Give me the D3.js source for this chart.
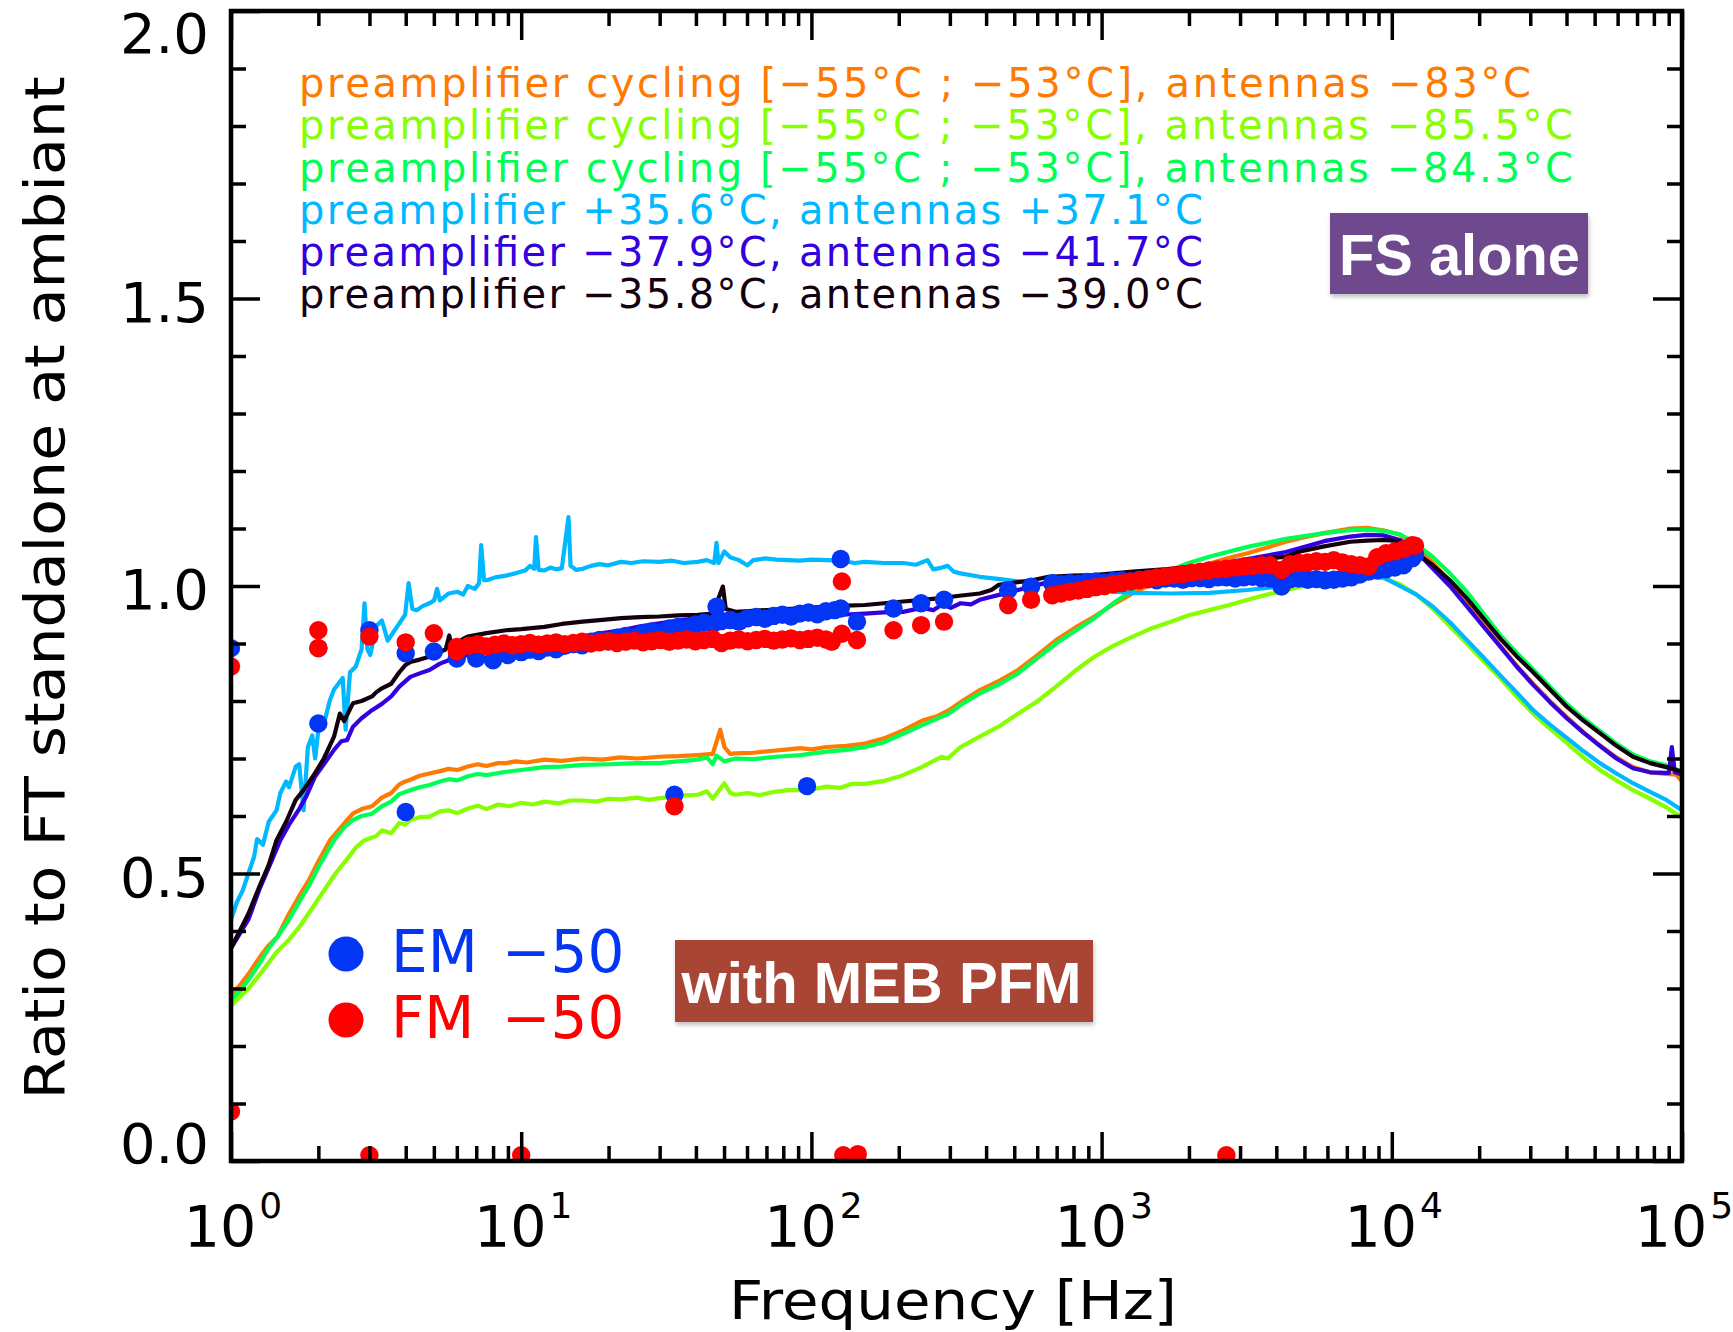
<!DOCTYPE html>
<html><head><meta charset="utf-8">
<script src="https://cdn.jsdelivr.net/npm/d3@7"></script>
<style>body{margin:0;background:#fff}svg{display:block}</style>
</head><body>
<svg id="c" width="1733" height="1332"></svg>
<script>
// ---- data: [log10(frequency / Hz), ratio] ----
const orangeData = [[0,.29],[.03,.305],[.06,.325],[.1,.355],[.13,.375],[.16,.39],[.2,.43],[.24,.465],[.27,.49],[.3,.52],[.341,.558],[.37,.575],[.395,.59],[.42,.604],[.45,.612],[.486,.617],[.52,.632],[.552,.64],[.58,.655],[.6,.66],[.618,.663],[.65,.67],[.684,.674],[.72,.678],[.75,.682],[.78,.68],[.816,.686],[.85,.69],[.88,.687],[.92,.692],[.948,.692],[.98,.695],[1.02,.693],[1.08,.698],[1.14,.696],[1.212,.7],[1.28,.698],[1.34,.702],[1.4,.7],[1.476,.703],[1.54,.704],[1.608,.706],[1.66,.708],[1.686,.75],[1.7,.72],[1.72,.708],[1.739,.709],[1.8,.71],[1.86,.713],[1.92,.716],[1.961,.718],[2,.716],[2.052,.72],[2.12,.722],[2.184,.726],[2.25,.735],[2.316,.749],[2.382,.766],[2.43,.773],[2.474,.784],[2.52,.8],[2.58,.819],[2.65,.836],[2.712,.854],[2.78,.88],[2.843,.906],[2.91,.928],[2.975,.947],[3.04,.968],[3.107,.987],[3.17,1.003],[3.239,1.016],[3.3,1.028],[3.371,1.039],[3.44,1.049],[3.503,1.057],[3.57,1.067],[3.635,1.077],[3.7,1.085],[3.767,1.092],[3.857,1.1],[3.913,1.101],[3.97,1.097],[4.028,1.089],[4.085,1.068],[4.142,1.04],[4.2,1.007],[4.258,.97],[4.315,.933],[4.373,.897],[4.43,.862],[4.487,.83],[4.545,.8],[4.603,.772],[4.66,.746],[4.717,.723],[4.774,.702],[4.831,.685],[4.89,.676],[4.946,.673],[4.98,.672],[5,.66]];
const limeData = [[0,.27],[.03,.285],[.06,.3],[.1,.325],[.13,.345],[.16,.365],[.2,.385],[.24,.41],[.28,.44],[.32,.47],[.36,.5],[.4,.525],[.43,.545],[.46,.558],[.5,.565],[.52,.575],[.552,.57],[.58,.588],[.6,.585],[.618,.593],[.65,.598],[.684,.599],[.72,.608],[.75,.61],[.78,.605],[.816,.613],[.85,.618],[.88,.612],[.92,.62],[.96,.617],[1,.623],[1.04,.62],[1.08,.625],[1.13,.622],[1.17,.627],[1.212,.627],[1.26,.625],[1.3,.63],[1.344,.629],[1.4,.632],[1.44,.628],[1.476,.631],[1.52,.633],[1.56,.636],[1.608,.637],[1.64,.643],[1.66,.63],[1.7,.657],[1.72,.64],[1.739,.637],[1.78,.64],[1.82,.636],[1.871,.642],[1.92,.645],[1.961,.645],[2,.646],[2.052,.651],[2.1,.649],[2.14,.656],[2.184,.656],[2.25,.661],[2.316,.671],[2.38,.685],[2.448,.703],[2.47,.7],[2.514,.72],[2.58,.738],[2.65,.757],[2.712,.778],[2.78,.8],[2.843,.825],[2.91,.853],[2.975,.877],[3.04,.896],[3.107,.912],[3.17,.926],[3.239,.938],[3.3,.949],[3.371,.958],[3.44,.967],[3.503,.976],[3.57,.985],[3.635,.993],[3.7,1],[3.767,1.005],[3.857,1.012],[3.913,1.017],[3.97,1.014],[4.028,1.003],[4.085,.985],[4.142,.96],[4.2,.93],[4.258,.9],[4.315,.87],[4.373,.84],[4.43,.808],[4.487,.778],[4.545,.752],[4.603,.727],[4.66,.702],[4.717,.68],[4.774,.662],[4.831,.645],[4.89,.63],[4.946,.615],[5,.597]];
const greenData = [[0,.28],[.03,.295],[.06,.315],[.1,.345],[.13,.37],[.16,.39],[.2,.42],[.24,.455],[.27,.48],[.3,.51],[.355,.558],[.39,.58],[.42,.593],[.45,.6],[.486,.604],[.52,.617],[.552,.625],[.58,.638],[.618,.645],[.65,.65],[.684,.654],[.72,.66],[.75,.664],[.78,.662],[.816,.669],[.85,.673],[.88,.671],[.948,.677],[1,.68],[1.08,.685],[1.14,.686],[1.212,.689],[1.3,.69],[1.4,.692],[1.476,.692],[1.54,.695],[1.608,.698],[1.64,.702],[1.66,.69],[1.673,.705],[1.7,.695],[1.739,.7],[1.8,.699],[1.88,.703],[1.961,.706],[2.052,.712],[2.12,.715],[2.184,.72],[2.25,.728],[2.316,.743],[2.4,.762],[2.474,.778],[2.52,.795],[2.58,.813],[2.65,.83],[2.712,.848],[2.78,.875],[2.843,.9],[2.91,.922],[2.975,.944],[3.04,.97],[3.107,.993],[3.17,1.012],[3.239,1.028],[3.3,1.04],[3.371,1.051],[3.44,1.06],[3.503,1.068],[3.57,1.075],[3.635,1.082],[3.7,1.087],[3.767,1.092],[3.857,1.097],[3.913,1.098],[3.97,1.096],[4.028,1.09],[4.085,1.073],[4.142,1.05],[4.2,1.022],[4.258,.99],[4.315,.953],[4.373,.915],[4.43,.884],[4.487,.855],[4.545,.825],[4.603,.795],[4.66,.77],[4.717,.748],[4.774,.726],[4.831,.707],[4.89,.695],[4.946,.688],[5,.677]];
const skyData = [[0,.42],[.02,.45],[.04,.47],[.06,.5],[.08,.53],[.09,.56],[.11,.55],[.13,.59],[.157,.61],[.17,.64],[.19,.66],[.2,.65],[.223,.686],[.235,.69],[.25,.61],[.265,.72],[.28,.74],[.29,.7],[.3,.745],[.32,.76],[.34,.8],[.355,.82],[.37,.83],[.385,.84],[.395,.75],[.41,.85],[.43,.86],[.45,.89],[.46,.97],[.47,.89],[.48,.88],[.5,.93],[.52,.94],[.54,.905],[.56,.92],[.58,.935],[.6,.95],[.612,1.005],[.625,.96],[.64,.958],[.66,.965],[.684,.97],[.7,.975],[.71,.995],[.72,.975],[.75,.987],[.78,.99],[.8,.985],[.816,1.0],[.84,.995],[.855,1.005],[.862,1.071],[.872,1.01],[.882,1.01],[.91,1.015],[.948,1.018],[.98,1.022],[1.014,1.027],[1.03,1.035],[1.045,1.03],[1.051,1.085],[1.06,1.028],[1.08,1.027],[1.1,1.032],[1.12,1.029],[1.14,1.031],[1.163,1.12],[1.17,1.035],[1.19,1.028],[1.212,1.03],[1.24,1.035],[1.27,1.038],[1.3,1.036],[1.344,1.042],[1.38,1.04],[1.42,1.043],[1.476,1.042],[1.52,1.044],[1.56,1.04],[1.608,1.042],[1.64,1.045],[1.665,1.04],[1.673,1.075],[1.68,1.04],[1.7,1.06],[1.72,1.05],[1.75,1.045],[1.779,1.036],[1.8,1.045],[1.84,1.048],[1.88,1.046],[1.92,1.045],[1.96,1.044],[2,1.046],[2.052,1.045],[2.1,1.044],[2.15,1.04],[2.184,1.042],[2.25,1.04],[2.316,1.04],[2.36,1.037],[2.4,1.045],[2.42,1.029],[2.45,1.032],[2.47,1.035],[2.49,1.025],[2.514,1.022],[2.58,1.016],[2.65,1.012],[2.712,1.008],[2.78,1.004],[2.843,1.002],[2.91,.997],[2.975,.993],[3.04,.99],[3.107,.988],[3.239,.987],[3.371,.988],[3.503,.993],[3.635,1.0],[3.767,1.01],[3.857,1.016],[3.913,1.018],[3.97,1.015],[4.028,1.0],[4.085,.985],[4.142,.964],[4.2,.937],[4.258,.906],[4.315,.876],[4.373,.845],[4.43,.815],[4.487,.784],[4.545,.759],[4.603,.736],[4.66,.713],[4.717,.692],[4.774,.674],[4.831,.657],[4.89,.642],[4.946,.628],[5,.61]];
const violetData = [[0,.37],[.03,.395],[.06,.42],[.1,.475],[.13,.51],[.17,.558],[.2,.585],[.236,.613],[.26,.635],[.289,.668],[.32,.69],[.355,.715],[.38,.73],[.4,.732],[.42,.755],[.45,.77],[.486,.784],[.52,.795],[.552,.808],[.58,.825],[.618,.842],[.65,.848],[.684,.854],[.72,.865],[.75,.871],[.78,.875],[.816,.88],[.88,.884],[.948,.889],[1,.895],[1.08,.9],[1.14,.906],[1.212,.912],[1.28,.918],[1.344,.923],[1.41,.93],[1.476,.935],[1.54,.94],[1.608,.944],[1.68,.947],[1.74,.949],[1.8,.95],[1.88,.951],[1.961,.952],[2.052,.949],[2.1,.95],[2.184,.952],[2.25,.954],[2.316,.955],[2.38,.962],[2.42,.958],[2.45,.968],[2.48,.962],[2.514,.97],[2.55,.968],[2.58,.976],[2.65,.985],[2.712,.993],[2.78,1.002],[2.843,1.01],[2.975,1.016],[3.107,1.022],[3.239,1.029],[3.371,1.036],[3.503,1.047],[3.635,1.059],[3.7,1.068],[3.767,1.078],[3.857,1.086],[3.913,1.089],[3.97,1.088],[4.028,1.08],[4.085,1.06],[4.142,1.03],[4.2,1],[4.258,.965],[4.315,.93],[4.373,.895],[4.43,.86],[4.487,.828],[4.545,.798],[4.603,.77],[4.66,.745],[4.717,.722],[4.774,.7],[4.831,.683],[4.89,.676],[4.946,.675],[4.955,.675],[4.965,.72],[4.975,.676],[5,.672]];
const blackData = [[0,.37],[.03,.4],[.06,.43],[.1,.48],[.13,.515],[.157,.558],[.19,.59],[.223,.628],[.25,.645],[.289,.674],[.32,.7],[.355,.738],[.375,.778],[.39,.765],[.42,.796],[.45,.8],[.486,.808],[.5,.815],[.52,.822],[.552,.83],[.58,.85],[.6,.862],[.618,.868],[.65,.872],[.684,.877],[.72,.885],[.74,.89],[.752,.914],[.76,.895],[.8,.908],[.816,.912],[.88,.918],[.948,.923],[1,.925],[1.08,.929],[1.14,.934],[1.212,.938],[1.28,.941],[1.344,.944],[1.41,.946],[1.476,.947],[1.54,.949],[1.608,.95],[1.66,.952],[1.695,.999],[1.705,.96],[1.739,.955],[1.8,.957],[1.88,.959],[1.961,.961],[2.052,.964],[2.12,.966],[2.184,.967],[2.25,.97],[2.316,.973],[2.38,.976],[2.448,.979],[2.51,.983],[2.58,.987],[2.62,.993],[2.646,1.002],[2.7,1.006],[2.76,1.01],[2.817,1.016],[2.9,1.018],[2.975,1.019],[3.04,1.022],[3.107,1.025],[3.239,1.03],[3.371,1.036],[3.503,1.044],[3.635,1.051],[3.684,1.06],[3.767,1.069],[3.857,1.077],[3.913,1.079],[3.97,1.08],[4.028,1.078],[4.085,1.057],[4.142,1.036],[4.2,1.01],[4.258,.979],[4.315,.944],[4.373,.909],[4.43,.878],[4.487,.85],[4.545,.82],[4.603,.79],[4.66,.766],[4.717,.744],[4.774,.722],[4.831,.703],[4.89,.692],[4.946,.685],[5,.677]];

const emData = [[0,.892],[.301,.892],[.301,.761],[.477,.923],[.602,.883],[.602,.607],[.699,.886],[.778,.874],[.845,.874],[.903,.871],[.954,.88],
 [1,.885],[1.03,.889],[1.06,.887],[1.09,.893],[1.12,.89],[1.15,.896],[1.18,.899],[1.21,.897],[1.24,.903],[1.27,.906],[1.3,.904],[1.33,.91],[1.36,.913],[1.39,.911],[1.42,.918],[1.45,.921],[1.48,.919],[1.51,.926],[1.54,.929],[1.57,.927],[1.6,.933],[1.63,.936],[1.66,.934],[1.673,.964],[1.69,.939],[1.72,.941],[1.75,.938],[1.78,.944],[1.81,.946],[1.84,.943],[1.87,.948],[1.9,.95],[1.93,.947],[1.96,.952],[1.99,.954],[2.02,.951],[2.05,.956],[2.08,.958],
 [1.528,.637],[1.985,.652],[2.101,1.047],[2.101,.961],[2.157,.938],[2.283,.961],[2.378,.97],[2.457,.976],[2.678,.993],[2.757,.999],[2.83,1.005],
 [2.86,1.003],[2.89,1.005],[2.92,1.004],[2.95,1.007],[2.98,1.008],[3.01,1.006],[3.04,1.009],[3.07,1.01],[3.1,1.008],[3.13,1.011],[3.16,1.012],[3.19,1.01],[3.22,1.013],[3.25,1.013],[3.28,1.011],[3.31,1.014],[3.34,1.014],[3.37,1.012],[3.4,1.015],[3.43,1.015],[3.46,1.013],[3.49,1.015],[3.52,1.016],[3.55,1.014],[3.58,1.013],[3.62,.999],
 [3.65,1.012],[3.68,1.013],[3.71,1.011],[3.74,1.012],[3.77,1.01],[3.8,1.011],[3.83,1.013],[3.86,1.015],[3.89,1.02],[3.92,1.025],[3.95,1.027],[3.98,1.029],[4.01,1.032],[4.04,1.036],[4.07,1.048],[4.08,1.055]];
const fmData = [[0,.86],[0,.086],[.301,.923],[.301,.892],[.477,.912],[.477,.01],[.602,.902],[.699,.918],[.778,.894],[.778,.886],[1,.01],
 [.82,.896],[.85,.899],[.88,.895],[.91,.898],[.94,.9],[.97,.897],[1,.899],[1.03,.901],[1.06,.898],[1.09,.9],[1.12,.902],[1.15,.899],[1.18,.901],[1.21,.903],[1.24,.9],[1.27,.902],[1.3,.904],[1.33,.901],[1.36,.903],[1.39,.905],[1.42,.902],[1.45,.904],[1.48,.906],[1.51,.903],[1.54,.905],[1.57,.907],[1.6,.904],[1.63,.906],[1.66,.908],[1.69,.901],[1.72,.905],[1.75,.907],[1.78,.904],[1.81,.906],[1.84,.908],[1.87,.905],[1.9,.907],[1.93,.909],[1.96,.906],[1.99,.908],[2.02,.91],[2.05,.907],[2.07,.903],
 [1.528,.617],[2.105,1.008],[2.105,.917],[2.11,.01],[2.157,.906],[2.16,.012],[2.283,.923],[2.378,.932],[2.457,.938],[2.678,.967],[2.757,.976],[3.43,.01],
 [2.83,.984],[2.86,.987],[2.89,.99],[2.92,.992],[2.95,.995],[2.98,.998],[3.01,1],[3.04,1.003],[3.07,1.005],[3.1,1.008],[3.13,1.01],[3.16,1.012],[3.19,1.015],[3.22,1.017],[3.25,1.019],[3.28,1.021],[3.31,1.023],[3.34,1.025],[3.37,1.027],[3.4,1.029],[3.43,1.03],[3.46,1.032],[3.49,1.034],[3.52,1.035],[3.55,1.036],[3.58,1.036],
 [3.62,1.028],[3.65,1.038],[3.68,1.04],[3.71,1.041],[3.74,1.043],[3.77,1.042],[3.8,1.045],[3.83,1.041],[3.86,1.038],[3.89,1.036],[3.92,1.034],[3.95,1.05],[3.98,1.057],[4.01,1.06],[4.04,1.064],[4.07,1.071],[4.08,1.07]];

const legendTexts = [
  "preamplifier cycling [−55°C ; −53°C], antennas −83°C",
  "preamplifier cycling [−55°C ; −53°C], antennas −85.5°C",
  "preamplifier cycling [−55°C ; −53°C], antennas −84.3°C",
  "preamplifier +35.6°C, antennas +37.1°C",
  "preamplifier −37.9°C, antennas −41.7°C",
  "preamplifier −35.8°C, antennas −39.0°C"];
const xMajor = [1, 10, 100, 1000, 10000, 100000];
const xExponents = ["0", "1", "2", "3", "4", "5"];
const yMajor = [0, 0.5, 1.0, 1.5, 2.0];
const yLabels = ["0.0", "0.5", "1.0", "1.5", "2.0"];

// ---- styles ----
const lineColors = ["#FF7A00", "#88FF00", "#00FF55", "#00B8FF", "#3300E0", "#14000F"];
const emColor = "#0335F5", fmColor = "#FF0000";
const FONT = "'DejaVu Sans', sans-serif";

const svg = d3.select("#c");
svg.append("rect").attr("width", 1733).attr("height", 1332).attr("fill", "#fff");

const L = 231, R = 1682, T = 11, B = 1161;
const x = d3.scaleLog().domain([1, 1e5]).range([L, R]);
const y = d3.scaleLinear().domain([0, 2]).range([B, T]);
const hz = lf => Math.pow(10, lf);

const defs = svg.append("defs");
defs.append("clipPath").attr("id", "plotclip").append("rect")
  .attr("x", L).attr("y", T).attr("width", R - L).attr("height", B - T);
const sh = defs.append("filter").attr("id", "shadow").attr("x", "-10%").attr("y", "-10%").attr("width", "130%").attr("height", "140%");
sh.append("feDropShadow").attr("dx", 1).attr("dy", 3).attr("stdDeviation", 2).attr("flood-color", "#000").attr("flood-opacity", 0.25);

const plot = svg.append("g").attr("clip-path", "url(#plotclip)");
const line = d3.line().x(d => x(hz(d[0]))).y(d => y(d[1]));
[orangeData, limeData, greenData, skyData, violetData, blackData].forEach((data, i) => {
  plot.append("path").datum(data).attr("d", line).attr("fill", "none")
    .attr("stroke", lineColors[i]).attr("stroke-width", 4.2)
    .attr("stroke-linejoin", "round").attr("stroke-linecap", "round");
});
plot.append("g").selectAll("circle").data(emData).join("circle")
  .attr("cx", d => x(hz(d[0]))).attr("cy", d => y(d[1])).attr("r", 9.2).attr("fill", emColor);
plot.append("g").selectAll("circle").data(fmData).join("circle")
  .attr("cx", d => x(hz(d[0]))).attr("cy", d => y(d[1])).attr("r", 9.2).attr("fill", fmColor);

// ---- axes ----
const xMinor = [];
for (let d = 1; d < 1e5; d *= 10) for (let k = 2; k <= 9; k++) xMinor.push(d * k);
const yMinor = d3.range(0, 21).map(i => i / 10).filter(v => Math.abs(v * 2 - Math.round(v * 2)) > 1e-6);

function styleAxis(g) {
  g.select(".domain").remove();
  g.selectAll("line").attr("stroke", "#000").attr("stroke-width", 3.5);
  g.selectAll("text").remove();
}
const axes = svg.append("g");
axes.append("g").attr("transform", `translate(0,${B})`).call(d3.axisBottom(x).tickValues(xMajor).tickSize(-29).tickFormat("")).call(styleAxis);
axes.append("g").attr("transform", `translate(0,${B})`).call(d3.axisBottom(x).tickValues(xMinor).tickSize(-15).tickFormat("")).call(styleAxis);
axes.append("g").attr("transform", `translate(0,${T})`).call(d3.axisTop(x).tickValues(xMajor).tickSize(-29).tickFormat("")).call(styleAxis);
axes.append("g").attr("transform", `translate(0,${T})`).call(d3.axisTop(x).tickValues(xMinor).tickSize(-15).tickFormat("")).call(styleAxis);
axes.append("g").attr("transform", `translate(${L},0)`).call(d3.axisLeft(y).tickValues(yMajor).tickSize(-29).tickFormat("")).call(styleAxis);
axes.append("g").attr("transform", `translate(${L},0)`).call(d3.axisLeft(y).tickValues(yMinor).tickSize(-15).tickFormat("")).call(styleAxis);
axes.append("g").attr("transform", `translate(${R},0)`).call(d3.axisRight(y).tickValues(yMajor).tickSize(-29).tickFormat("")).call(styleAxis);
axes.append("g").attr("transform", `translate(${R},0)`).call(d3.axisRight(y).tickValues(yMinor).tickSize(-15).tickFormat("")).call(styleAxis);
axes.append("rect").attr("x", L).attr("y", T).attr("width", R - L).attr("height", B - T)
  .attr("fill", "none").attr("stroke", "#000").attr("stroke-width", 4.5);

// tick labels
const xl = svg.append("g").attr("font-family", FONT).attr("fill", "#000");
xMajor.forEach((v, i) => {
  const t = xl.append("text").attr("x", x(v) + 2).attr("y", 1247).attr("text-anchor", "middle");
  t.append("tspan").attr("font-size", 57).text("10");
  t.append("tspan").attr("font-size", 36).attr("dy", -29).attr("dx", 3).text(xExponents[i]);
});
yMajor.forEach((v, i) => {
  let by = y(v) + 23;
  if (i === yMajor.length - 1) by = y(v) + 42;
  if (i === 0) by = y(v) + 2;
  xl.append("text").attr("x", 209).attr("y", by).attr("text-anchor", "end")
    .attr("font-size", 56).text(yLabels[i]);
});

// axis titles
svg.append("text").attr("x", 953).attr("y", 1319).attr("text-anchor", "middle")
  .attr("font-family", FONT).attr("font-size", 54).attr("textLength", 448).attr("lengthAdjust", "spacingAndGlyphs")
  .text("Frequency [Hz]");
svg.append("text").attr("transform", "translate(64,588) rotate(-90)").attr("text-anchor", "middle")
  .attr("font-family", FONT).attr("font-size", 56).attr("textLength", 1023).attr("lengthAdjust", "spacingAndGlyphs")
  .text("Ratio to FT standalone at ambiant");

// legend of curves
const legendBase = [97, 139, 182, 224, 266, 308];
const legendLen = [1232, 1274, 1274, 904, 904, 904];
legendTexts.forEach((s, i) => {
  svg.append("text").attr("x", 299).attr("y", legendBase[i]).attr("font-family", FONT)
    .attr("font-size", 40).attr("fill", lineColors[i])
    .attr("textLength", legendLen[i]).attr("lengthAdjust", "spacing").text(s);
});

// legend of dots
[["EM", emColor, 954, 972], ["FM", fmColor, 1020, 1038]].forEach(([lab, col, cy, by]) => {
  svg.append("circle").attr("cx", 346).attr("cy", cy).attr("r", 17.5).attr("fill", col);
  svg.append("text").attr("x", 391).attr("y", by).attr("font-family", FONT).attr("font-size", 58).attr("fill", col).text(lab);
  svg.append("text").attr("x", 502).attr("y", by).attr("font-family", FONT).attr("font-size", 58).attr("fill", col).text("−50");
});

// labelled boxes
function box(x0, y0, w, h, fill, label, tx, ty, fs, tl) {
  svg.append("rect").attr("x", x0).attr("y", y0).attr("width", w).attr("height", h)
    .attr("fill", fill).attr("filter", "url(#shadow)");
  svg.append("text").attr("x", tx).attr("y", ty).attr("text-anchor", "middle")
    .attr("font-family", "'Liberation Sans', Arial, sans-serif").attr("font-weight", "bold")
    .attr("font-size", fs).attr("fill", "#fff").attr("textLength", tl).attr("lengthAdjust", "spacingAndGlyphs").text(label);
}
box(1330, 213, 258, 81, "#6E4A8E", "FS alone", 1459.5, 275, 58, 241);
box(675, 940, 418, 82, "#A84535", "with MEB PFM", 881.5, 1003, 57, 400);
</script>
</body></html>
